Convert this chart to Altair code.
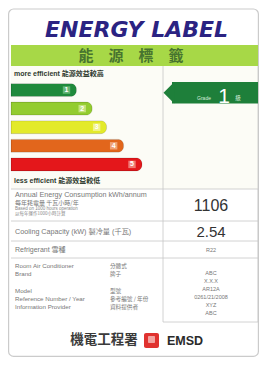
import altair as alt
import pandas as pd

# ---------------- data ----------------
grades = ["1", "2", "3", "4", "5"]
bar_length = [50, 62, 73, 86, 100]          # relative arrow length per grade
bar_colors = ["#1f8a3c", "#93cc2f", "#e3ea2a", "#e2661c", "#e4171b"]
light_colors = ["#63b775", "#c3e27c", "#f2f48c", "#efa376", "#f07b74"]

title_en = "ENERGY LABEL"
title_zh = "能　源　標　籤"
more_eff = "more efficient 能源效益較高"
less_eff = "less efficient 能源效益較低"
grade_value = "1"

row1_lines = ["Annual Energy Consumption kWh/annum", "每年耗電量 千瓦小時/年",
              "Based on 1000 hours operation", "以每年運作1000小時計算"]
annual_kwh = "1106"
cooling_label = "Cooling Capacity (kW) 製冷量 (千瓦)"
cooling_kw = "2.54"
refrig_label = "Refrigerant 雪種"
refrig_value = "R22"
info_left = ["Room Air Conditioner", "Brand", "Model", "Reference Number / Year", "Information Provider"]
info_mid = ["分體式", "牌子", "型號", "參考編號 / 年份", "資料提供者"]
info_right = ["ABC", "X.X.X", "AR12A", "0261/21/2008", "XYZ", "ABC"]
footer_zh = "機電工程署"
footer_en = "EMSD"

FONT = "'Liberation Sans', 'Noto Sans CJK TC', sans-serif"
CJK = "'Noto Sans CJK TC', sans-serif"


def px(v):
    return v - 8


def py(v):
    return v - 8


ONE = pd.DataFrame({"a": [0]})


def box(x1, y1, x2, y2, fill, stroke=None, sw=1.0, r=0):
    kw = dict(fill=fill, cornerRadius=r)
    if stroke:
        kw.update(stroke=stroke, strokeWidth=sw)
    else:
        kw.update(strokeWidth=0)
    return alt.Chart(ONE).mark_rect(**kw).encode(
        x=alt.value(px(x1)), x2=alt.value(px(x2)),
        y=alt.value(py(y1)), y2=alt.value(py(y2)))


def hline(x1, x2, y, color="#c6c6c6", sw=0.8):
    return alt.Chart(ONE).mark_rule(color=color, strokeWidth=sw).encode(
        x=alt.value(px(x1)), x2=alt.value(px(x2)), y=alt.value(py(y)))


def vline(x, y1, y2, color="#c6c6c6", sw=0.8):
    return alt.Chart(ONE).mark_rule(color=color, strokeWidth=sw).encode(
        x=alt.value(px(x)), y=alt.value(py(y1)), y2=alt.value(py(y2)))


def txt(s, x, y, size, color="#555", weight="normal", align="left",
        font=FONT, style="normal", baseline="middle"):
    return alt.Chart(pd.DataFrame({"t": [s]})).mark_text(
        align=align, baseline=baseline, fontSize=size, fontWeight=weight,
        color=color, font=font, fontStyle=style).encode(
        x=alt.value(px(x)), y=alt.value(py(y)), text="t:N")


layers = []
# outer frame
layers.append(box(8.6, 9, 258.4, 356.4, "white", stroke="#cbcbcb", sw=1.2, r=5))
# title
layers.append(txt(title_en, 136.5, 37, 22, color="#2b2382", weight="bold",
                  align="center", font="'DejaVu Sans', sans-serif", style="italic",
                  baseline="alphabetic"))
# green band
layers.append(box(11, 45, 258, 66, "#a7d847"))
layers.append(txt(title_zh, 131, 56, 15, color="#47742f", weight="bold",
                  align="center", font=CJK))
# grade panel
layers.append(box(11, 66, 258, 189, "#fcfcf6"))
layers.append(vline(163, 66, 322))
layers.append(vline(258, 66, 322))
layers.append(txt(more_eff, 14, 74, 7, color="#2f3a2f", weight="bold"))
layers.append(txt(less_eff, 14, 181, 7, color="#2f3a2f", weight="bold"))

# grade bars
bars_df = pd.DataFrame({"grade": grades, "len": bar_length,
                        "light": light_colors})
xs = alt.Scale(domain=[0, 100], range=[px(11), px(142)])
ys = alt.Scale(domain=grades, range=[py(80.7), py(173.7)],
               paddingInner=0.3, paddingOuter=0.15)
base = alt.Chart(bars_df)
layers.append(base.mark_bar(cornerRadiusEnd=6, stroke="#00000022", strokeWidth=0.8).encode(
    x=alt.X("len:Q", scale=xs, axis=None),
    y=alt.Y("grade:O", scale=ys, axis=None),
    color=alt.Color("grade:N", scale=alt.Scale(domain=grades, range=bar_colors),
                    legend=None)))
layers.append(base.mark_point(shape="square", filled=True, size=55, opacity=1).encode(
    x=alt.X("len:Q", scale=xs, axis=None),
    y=alt.Y("grade:O", scale=ys, axis=None),
    xOffset=alt.value(-10),
    color=alt.Color("light:N", scale=None)))
layers.append(base.mark_text(fontSize=7, fontWeight="bold", color="white",
                             font=FONT, dx=-10).encode(
    x=alt.X("len:Q", scale=xs, axis=None),
    y=alt.Y("grade:O", scale=ys, axis=None),
    text="grade:N"))

# indicator arrow (grade 1)
layers.append(box(172, 82, 258, 103.5, "#1e7f3a"))
layers.append(alt.Chart(ONE).mark_point(shape="M 1 -1 L 0 0 L 1 1 Z", filled=True,
                                         size=462, color="#1e7f3a", opacity=1).encode(
    x=alt.value(px(163.5)), y=alt.value(py(92.75))))
layers.append(txt("Grade", 204, 98, 5, color="#d9eedd", align="center"))
layers.append(txt(grade_value, 224, 102.5, 21, color="white", align="center",
                  baseline="alphabetic"))
layers.append(txt("級", 238, 98, 5.5, color="#d9eedd", align="center", font=CJK))

# table
layers.append(hline(11, 258, 189))
layers.append(hline(11, 258, 221))
layers.append(hline(11, 258, 241))
layers.append(hline(11, 258, 258))
layers.append(hline(163, 258, 322))

layers.append(txt(row1_lines[0], 15, 195, 7.2, color="#777"))
layers.append(txt(row1_lines[1], 15, 202.5, 6, color="#777", font=CJK))
layers.append(txt(row1_lines[2], 15, 208.5, 4.5, color="#888"))
layers.append(txt(row1_lines[3], 15, 213.5, 4.5, color="#888", font=CJK))
layers.append(txt(annual_kwh, 211, 206, 16, color="#333", align="center"))

layers.append(txt(cooling_label, 15, 231.5, 7.2, color="#777"))
layers.append(txt(cooling_kw, 211, 231.5, 15, color="#333", align="center"))

layers.append(txt(refrig_label, 15, 250, 7, color="#777"))
layers.append(txt(refrig_value, 211, 250, 5.5, color="#777", align="center"))

left_y = [266, 273.5, 291, 299, 307]
for s, yy in zip(info_left, left_y):
    layers.append(txt(s, 15, yy, 6.2, color="#777"))
for s, yy in zip(info_mid, left_y):
    layers.append(txt(s, 110, yy, 5.6, color="#777", font=CJK))
right_y = [273, 281, 289, 297, 305, 313]
for s, yy in zip(info_right, right_y):
    layers.append(txt(s, 211, yy, 5.5, color="#777", align="center"))

# footer
layers.append(txt(footer_zh, 104, 340, 13.5, color="#3a3a3a", weight="bold",
                  align="center", font=CJK))
layers.append(box(144, 333, 159, 348, "#e0322f", r=2))
layers.append(box(148, 336, 155, 343, "#f3a3a0", r=1))
layers.append(txt(footer_en, 185, 340.5, 12.5, color="#2a2a2a", weight="bold",
                  align="center"))

chart = alt.layer(*layers).properties(
    width=251, height=349, padding=0, autosize="none", background="white"
).configure_view(stroke=None)

chart.save("out.html", embed_options={"renderer": "svg", "actions": False})
